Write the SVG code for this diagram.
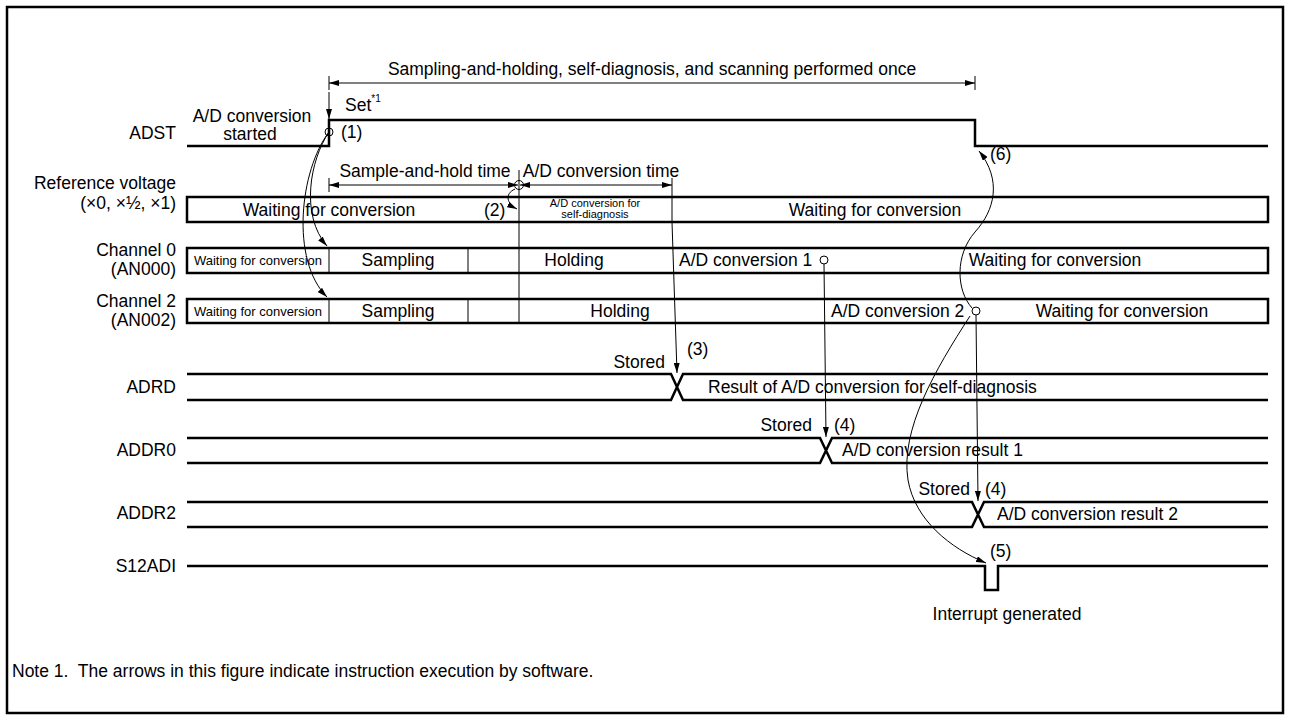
<svg xmlns="http://www.w3.org/2000/svg" width="1290" height="719" viewBox="0 0 1290 719">
  <style>
    text { font-family: "Liberation Sans", Arial, sans-serif; font-size: 17.5px; fill: #000; }
    .lbl { text-anchor: end; }
    .mid { text-anchor: middle; }
    .sm { font-size: 13px; }
    .xs { font-size: 11px; }
    .sup { font-size: 10px; }
    .sig { fill: none; stroke: #000; stroke-width: 2.5; stroke-linejoin: miter; }
    .box { fill: #fff; stroke: #000; stroke-width: 2.5; }
    .div { fill: none; stroke: #000; stroke-width: 1; }
    .thin { fill: none; stroke: #000; stroke-width: 1; }
    .arr { fill: none; stroke: #000; stroke-width: 1; marker-end: url(#ah); }
    .dim { fill: none; stroke: #000; stroke-width: 1; marker-start: url(#ah); marker-end: url(#ah); }
    .ring { fill: none; stroke: #000; stroke-width: 1; }
  </style>
  <defs>
    <marker id="ah" viewBox="0 0 10 6" refX="10" refY="3" markerWidth="10" markerHeight="6" markerUnits="userSpaceOnUse" orient="auto-start-reverse">
      <path d="M0,0 L10,3 L0,6 z" fill="#000"/>
    </marker>
  </defs>

  <rect x="0" y="0" width="1290" height="719" fill="#fff"/>
  <!-- outer frame -->
  <rect x="7" y="7" width="1276" height="706" fill="none" stroke="#000" stroke-width="2.5"/>

  <!-- overall span dimension -->
  <g id="span-dimension">
    <text class="mid" x="652" y="75">Sampling-and-holding, self-diagnosis, and scanning performed once</text>
    <line class="thin" x1="329" y1="76" x2="329" y2="90"/>
    <line class="thin" x1="975" y1="76" x2="975" y2="90"/>
    <line class="dim" x1="329" y1="83" x2="975" y2="83"/>
  </g>

  <!-- ADST -->
  <g id="adst">
    <text class="lbl" x="176" y="139">ADST</text>
    <text class="mid" x="252" y="122">A/D conversion</text>
    <text class="mid" x="250" y="140">started</text>
    <path class="sig" d="M187,146 H329 V120 H975 V146 H1268"/>
    <circle class="ring" cx="329" cy="132" r="4"/>
    <text x="341" y="138">(1)</text>
    <text x="345" y="111">Set<tspan class="sup" dy="-9">*1</tspan></text>
    <text x="990" y="160">(6)</text>
  </g>

  <!-- Reference voltage -->
  <g id="reference-voltage">
    <text class="lbl" x="176" y="189">Reference voltage</text>
    <text class="lbl" x="176" y="209">(×0, ×½, ×1)</text>
    <rect class="box" x="187" y="197" width="1081" height="25"/>
    <line class="div" x1="672" y1="178" x2="672" y2="222"/>
    <text class="mid" x="329" y="216">Waiting for conversion</text>
    <text x="484" y="216">(2)</text>
    <text class="mid xs" x="595" y="207">A/D conversion for</text>
    <text class="mid xs" x="595" y="218">self-diagnosis</text>
    <text class="mid" x="875" y="216">Waiting for conversion</text>
  </g>

  <!-- timing dimensions -->
  <g id="phase-dimensions">
    <text class="mid" x="425" y="177">Sample-and-hold time</text>
    <text class="mid" x="601" y="177">A/D conversion time</text>
    <line class="thin" x1="329" y1="178" x2="329" y2="192"/>
    <line class="dim" x1="329" y1="185" x2="518" y2="185"/>
    <line class="dim" x1="520" y1="185" x2="672" y2="185"/>
    <circle class="ring" cx="519" cy="185" r="4.5"/>
  </g>

  <!-- Channel 0 -->
  <g id="channel0">
    <text class="lbl" x="176" y="256">Channel 0</text>
    <text class="lbl" x="176" y="275">(AN000)</text>
    <rect class="box" x="187" y="248" width="1081" height="25"/>
    <line class="div" x1="329" y1="248" x2="329" y2="273"/>
    <line class="div" x1="468" y1="248" x2="468" y2="273"/>
    <text class="mid sm" x="258" y="265">Waiting for conversion</text>
    <text class="mid" x="398" y="266">Sampling</text>
    <text class="mid" x="574" y="266">Holding</text>
    <text x="679" y="266">A/D conversion 1</text>
    <circle class="ring" cx="824" cy="260" r="4"/>
    <text class="mid" x="1055" y="266">Waiting for conversion</text>
  </g>

  <!-- Channel 2 -->
  <g id="channel2">
    <text class="lbl" x="176" y="307">Channel 2</text>
    <text class="lbl" x="176" y="326">(AN002)</text>
    <rect class="box" x="187" y="299" width="1081" height="24"/>
    <line class="div" x1="329" y1="299" x2="329" y2="323"/>
    <line class="div" x1="468" y1="299" x2="468" y2="323"/>
    <text class="mid sm" x="258" y="316">Waiting for conversion</text>
    <text class="mid" x="398" y="317">Sampling</text>
    <text class="mid" x="620" y="317">Holding</text>
    <text x="831" y="317">A/D conversion 2</text>
    <circle class="ring" cx="976" cy="311" r="4"/>
    <text class="mid" x="1122" y="317">Waiting for conversion</text>
  </g>

  <!-- ADRD -->
  <g id="adrd">
    <text class="lbl" x="176" y="393">ADRD</text>
    <path class="sig" d="M187,374 H671 L683,400 H1268 M187,400 H671 L683,374 H1268"/>
    <text class="lbl" x="665" y="368">Stored</text>
    <text x="687" y="355">(3)</text>
    <text x="708" y="393">Result of A/D conversion for self-diagnosis</text>
  </g>

  <!-- ADDR0 -->
  <g id="addr0">
    <text class="lbl" x="176" y="456">ADDR0</text>
    <path class="sig" d="M187,438 H820 L832,463 H1268 M187,463 H820 L832,438 H1268"/>
    <text class="lbl" x="812" y="431">Stored</text>
    <text x="834" y="431">(4)</text>
    <text x="842" y="456">A/D conversion result 1</text>
  </g>

  <!-- ADDR2 -->
  <g id="addr2">
    <text class="lbl" x="176" y="519">ADDR2</text>
    <path class="sig" d="M187,502 H972 L984,527 H1268 M187,527 H972 L984,502 H1268"/>
    <text class="lbl" x="970" y="495">Stored</text>
    <text x="985" y="495">(4)</text>
    <text x="997" y="520">A/D conversion result 2</text>
  </g>

  <!-- S12ADI -->
  <g id="s12adi">
    <text class="lbl" x="176" y="572">S12ADI</text>
    <path class="sig" d="M187,566 H985 V590 H998 V566 H1268"/>
    <text x="990" y="557">(5)</text>
    <text class="mid" x="1007" y="620">Interrupt generated</text>
  </g>

  <!-- connectors -->
  <g id="connectors">
    <!-- phase boundary between sampling/holding and conversion -->
    <line class="div" x1="519" y1="170" x2="519" y2="323"/>
    <!-- (1) start of sampling on both channels -->
    <path class="arr" d="M329,132 C310,160 300,215 327,246"/>
    <path class="arr" d="M329,132 C300,170 290,260 327,297"/>
    <!-- Set arrow -->
    <line class="arr" x1="329" y1="92" x2="329" y2="119"/>
    <!-- (2) -->
    <path class="arr" d="M515,189 C504,194 507,204 517,209"/>
    <!-- (3) self-diagnosis result stored -->
    <line class="arr" x1="672" y1="222" x2="677" y2="373"/>
    <!-- (4) channel results stored -->
    <line class="arr" x1="824" y1="264" x2="826" y2="437"/>
    <line class="arr" x1="976" y1="315" x2="978" y2="501"/>
    <!-- (5) scan end interrupt -->
    <path class="arr" d="M970,316 C935,370 900,430 908,480 C915,520 950,548 986,563"/>
    <!-- (6) ADST cleared -->
    <path class="arr" d="M972,308 C956,290 955,255 975,232 C995,210 1002,180 979,151"/>
  </g>

  <g id="note">
    <text x="12" y="677" xml:space="preserve">Note 1.  The arrows in this figure indicate instruction execution by software.</text>
  </g>
</svg>
